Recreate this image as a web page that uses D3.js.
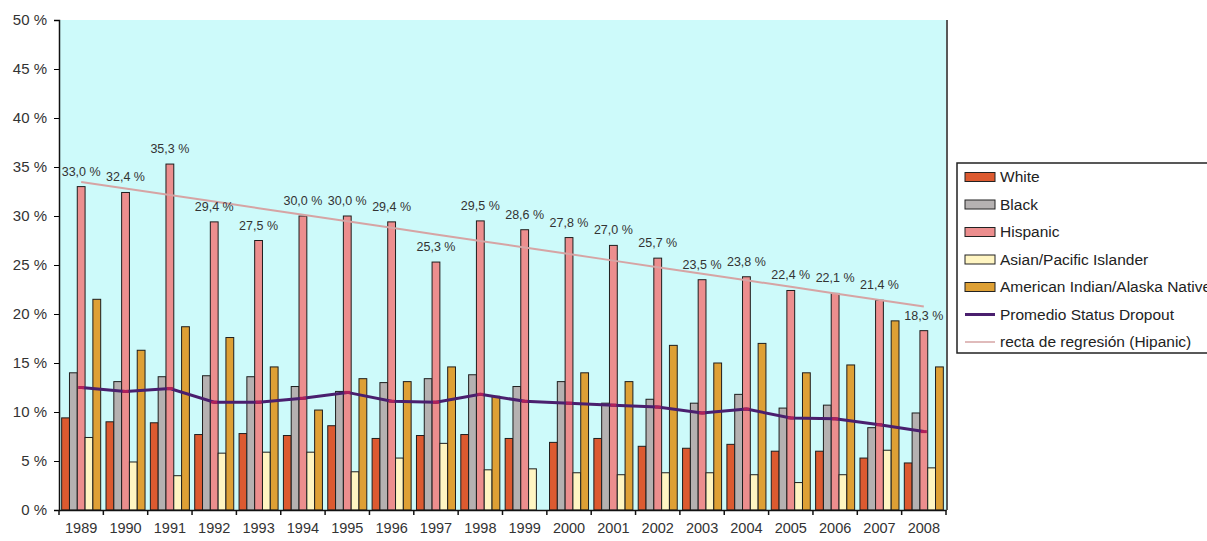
<!DOCTYPE html>
<html lang="es">

<head>
    <meta charset="UTF-8">
    <title>Status Dropout 1989-2008</title>
    <script src="https://d3js.org/d3.v7.min.js"></script>
    <style>
        body { margin: 0; background: #fff; }
        text { font-family: "Liberation Sans", Arial, sans-serif; }
    </style>
</head>

<body>
    <script>
        // datos (porcentajes)
        var years = ["1989", "1990", "1991", "1992", "1993", "1994", "1995", "1996", "1997", "1998",
            "1999", "2000", "2001", "2002", "2003", "2004", "2005", "2006", "2007", "2008"];
        var white = [9.4, 9.0, 8.9, 7.7, 7.8, 7.6, 8.6, 7.3, 7.6, 7.7, 7.3, 6.9, 7.3, 6.5, 6.3, 6.7, 6.0, 6.0, 5.3, 4.8];
        var black = [14.0, 13.1, 13.6, 13.7, 13.6, 12.6, 12.1, 13.0, 13.4, 13.8, 12.6, 13.1, 10.9, 11.3, 10.9, 11.8, 10.4, 10.7, 8.4, 9.9];
        var hispanic = [33.0, 32.4, 35.3, 29.4, 27.5, 30.0, 30.0, 29.4, 25.3, 29.5, 28.6, 27.8, 27.0, 25.7, 23.5, 23.8, 22.4, 22.1, 21.4, 18.3];
        var asian = [7.4, 4.9, 3.5, 5.8, 5.9, 5.9, 3.9, 5.3, 6.8, 4.1, 4.2, 3.8, 3.6, 3.8, 3.8, 3.6, 2.8, 3.6, 6.1, 4.3];
        var aian = [21.5, 16.3, 18.7, 17.6, 14.6, 10.2, 13.4, 13.1, 14.6, 11.6, null, 14.0, 13.1, 16.8, 15.0, 17.0, 14.0, 14.8, 19.3, 14.6];
        var promedio = [12.5, 12.1, 12.4, 11.0, 11.0, 11.4, 12.0, 11.1, 11.0, 11.8, 11.1, 10.9, 10.7, 10.5, 9.9, 10.3, 9.4, 9.3, 8.7, 8.0];
        var yTicks = [0, 5, 10, 15, 20, 25, 30, 35, 40, 45, 50];

        var barNames = ["White", "Black", "Hispanic", "Asian/Pacific Islander", "American Indian/Alaska Native"];
        var barColors = ["#dc5a30", "#b5b1b1", "#ec8e8e", "#fff5c2", "#dea035"];
        var lineNames = ["Promedio Status Dropout", "recta de regresión (Hipanic)"];
        var lineColors = ["#4a1f6e", "#d6a4a4"];

        var series = [white, black, hispanic, asian, aian];

        var width = 1207;
        var height = 541;
        var plot = { left: 59, right: 946, top: 20, bottom: 510 };

        var svg = d3.select("body")
            .append("svg")
            .attr("width", width)
            .attr("height", height);

        // escalas
        var x = d3.scaleBand()
            .domain(years)
            .range([plot.left, plot.right])
            .paddingInner(0.12)
            .paddingOuter(0.06);

        var xSub = d3.scaleBand()
            .domain(barNames)
            .range([0, x.bandwidth()]);

        var y = d3.scaleLinear()
            .domain([0, 50])
            .range([plot.bottom, plot.top]);

        var step = x.step();

        // fondo del área de trazado
        svg.append("rect")
            .attr("x", plot.left)
            .attr("y", plot.top)
            .attr("width", plot.right - plot.left)
            .attr("height", plot.bottom - plot.top)
            .attr("fill", "#cdfafa");

        // barras
        var rows = [];
        years.forEach(function (yr, i) {
            series.forEach(function (s, j) {
                if (s[i] != null) rows.push({ year: yr, name: barNames[j], color: barColors[j], value: s[i] });
            });
        });

        svg.append("g").selectAll("rect")
            .data(rows)
            .enter().append("rect")
            .attr("x", function (d) { return x(d.year) + xSub(d.name); })
            .attr("y", function (d) { return y(d.value); })
            .attr("width", xSub.bandwidth())
            .attr("height", function (d) { return y(0) - y(d.value); })
            .attr("fill", function (d) { return d.color; })
            .attr("stroke", "#1e1e1e")
            .attr("stroke-width", 1);

        // recta de regresión (mínimos cuadrados sobre Hispanic)
        var idx = d3.range(years.length);
        var mx = d3.mean(idx);
        var my = d3.mean(hispanic);
        var slope = d3.sum(idx, function (i) { return (i - mx) * (hispanic[i] - my); }) /
            d3.sum(idx, function (i) { return (i - mx) * (i - mx); });
        var reg = idx.map(function (i) { return my + slope * (i - mx); });

        var center = function (i) { return x(years[i]) + x.bandwidth() / 2; };

        var line = d3.line()
            .x(function (d, i) { return center(i); })
            .y(function (d) { return y(d); });

        svg.append("path")
            .datum(reg)
            .attr("d", line)
            .attr("fill", "none")
            .attr("stroke", lineColors[1])
            .attr("stroke-width", 2);

        svg.append("path")
            .datum(promedio)
            .attr("d", line)
            .attr("fill", "none")
            .attr("stroke", lineColors[0])
            .attr("stroke-width", 3);

        svg.append("g").selectAll("rect")
            .data(promedio)
            .enter().append("rect")
            .attr("x", function (d, i) { return center(i) - 3; })
            .attr("y", function (d) { return y(d) - 1.5; })
            .attr("width", 6)
            .attr("height", 3)
            .attr("fill", "#b0205a");

        // etiquetas de Hispanic
        var fmt = function (v) { return d3.format(".1f")(v).replace(".", ",") + " %"; };
        svg.append("g").selectAll("text")
            .data(hispanic)
            .enter().append("text")
            .attr("x", function (d, i) { return center(i); })
            .attr("y", function (d) { return y(d) - 11; })
            .attr("text-anchor", "middle")
            .attr("font-size", "12.5px")
            .attr("fill", "#333")
            .text(fmt);

        // ejes
        var yAxis = svg.append("g")
            .attr("transform", "translate(" + plot.left + ",0)")
            .call(d3.axisLeft(y).tickValues(yTicks).tickSize(5).tickPadding(7)
                .tickFormat(function (d) { return d + " %"; }));
        yAxis.select(".domain").attr("stroke", "#111").attr("stroke-width", 1.5);
        yAxis.selectAll("text").attr("font-size", "15px").attr("fill", "#333");

        var xAxis = svg.append("g")
            .attr("transform", "translate(0," + plot.bottom + ")")
            .call(d3.axisBottom(x).tickSize(0).tickPadding(13));
        xAxis.select(".domain").attr("stroke", "#111").attr("stroke-width", 1.5);
        xAxis.selectAll("text").attr("font-size", "14.5px").attr("fill", "#333");

        // marcas entre categorías
        svg.append("g").selectAll("line")
            .data(d3.range(years.length + 1))
            .enter().append("line")
            .attr("x1", function (i) { return plot.left + i * step; })
            .attr("x2", function (i) { return plot.left + i * step; })
            .attr("y1", plot.bottom)
            .attr("y2", plot.bottom + 5)
            .attr("stroke", "#111")
            .attr("stroke-width", 1.5);

        // borde derecho
        svg.append("line")
            .attr("x1", plot.right + 1).attr("x2", plot.right + 1)
            .attr("y1", plot.top).attr("y2", plot.bottom)
            .attr("stroke", "#222")
            .attr("stroke-width", 1.5);

        // leyenda
        var legend = svg.append("g").attr("transform", "translate(957,163)");
        legend.append("rect")
            .attr("width", 270)
            .attr("height", 190)
            .attr("fill", "#fff")
            .attr("stroke", "#222")
            .attr("stroke-width", 1.5);

        var legendItems = barNames.map(function (n, i) { return { name: n, color: barColors[i], type: "bar" }; })
            .concat(lineNames.map(function (n, i) { return { name: n, color: lineColors[i], type: "line", w: i == 0 ? 3 : 1.5 }; }));

        var item = legend.selectAll("g.item")
            .data(legendItems)
            .enter().append("g")
            .attr("class", "item")
            .attr("transform", function (d, i) { return "translate(0," + (14 + i * 27.5) + ")"; });

        item.filter(function (d) { return d.type == "bar"; })
            .append("rect")
            .attr("x", 8)
            .attr("y", -4.5)
            .attr("width", 30)
            .attr("height", 9)
            .attr("fill", function (d) { return d.color; })
            .attr("stroke", "#222")
            .attr("stroke-width", 1);

        item.filter(function (d) { return d.type == "line"; })
            .append("line")
            .attr("x1", 8)
            .attr("x2", 38)
            .attr("stroke", function (d) { return d.color; })
            .attr("stroke-width", function (d) { return d.w; });

        item.append("text")
            .attr("x", 43)
            .attr("dy", "0.35em")
            .attr("font-size", "15.5px")
            .attr("fill", "#222")
            .text(function (d) { return d.name; });
    </script>
</body>

</html>
